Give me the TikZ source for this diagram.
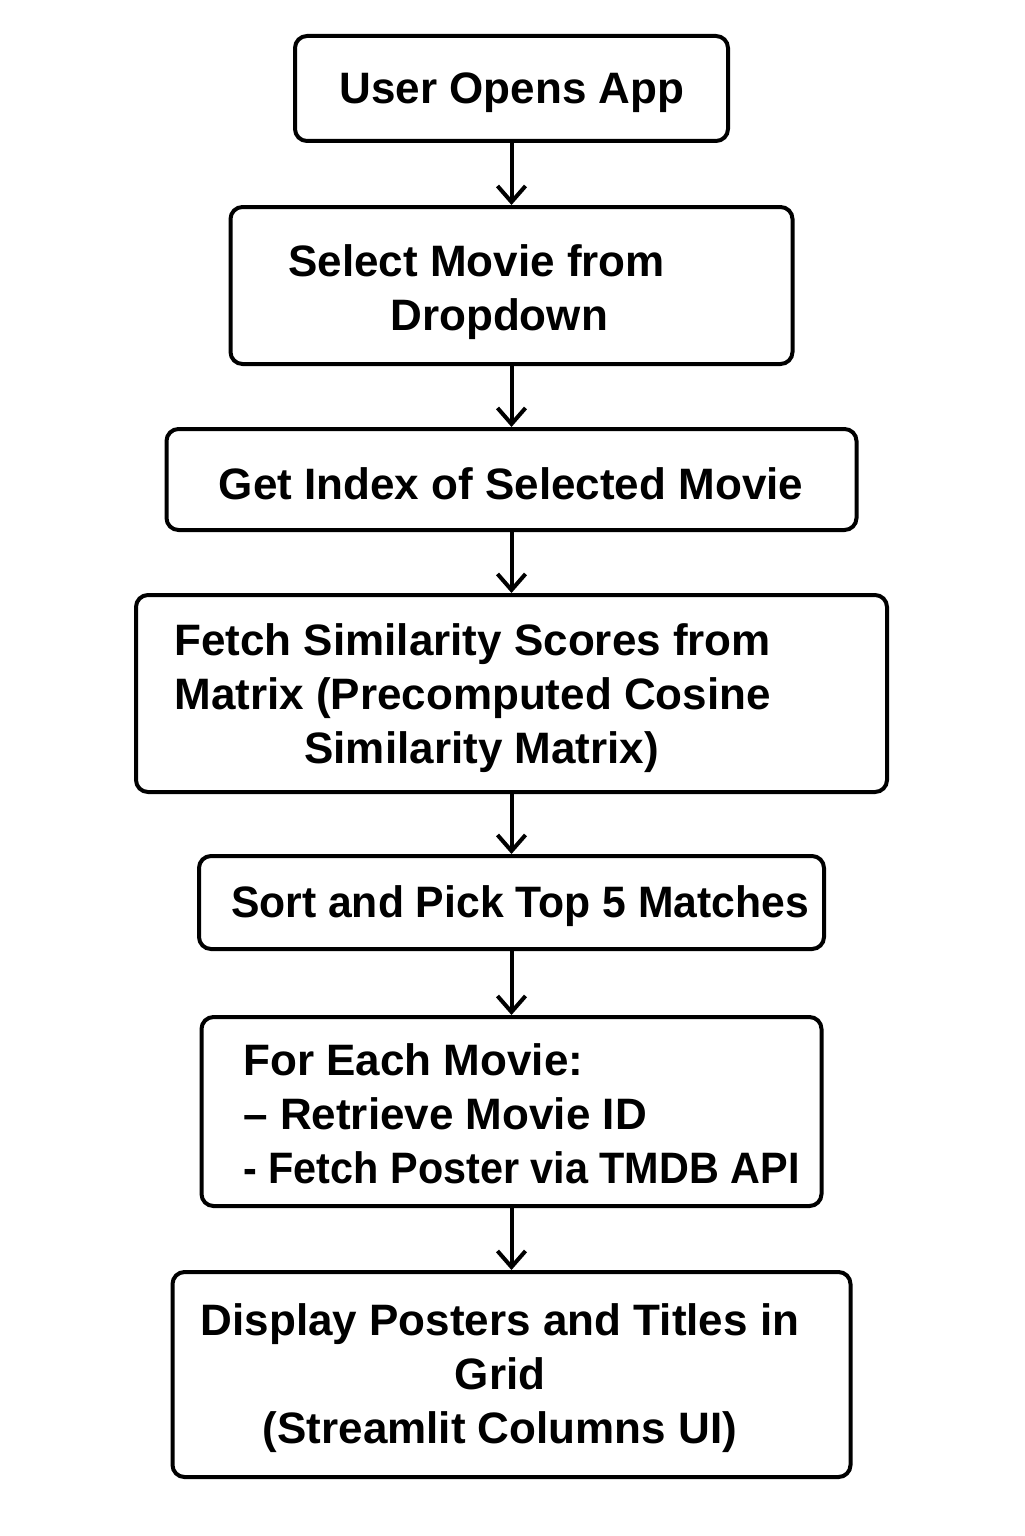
\documentclass[tikz,border=0pt]{standalone}
\usepackage{fontspec}
\usepackage{graphicx}
\newfontfamily\flowfont{Liberation Sans}
\usetikzlibrary{arrows.meta}

\begin{document}
\begin{tikzpicture}[x=0.5pt, y=-0.5pt,
    stepbox/.style={draw, line width=2pt, rounded corners=6pt},
    steptext/.style={font=\flowfont\bfseries\fontsize{22}{27}\selectfont, align=center, inner sep=0pt},
    flow/.style={-{Straight Barb[length=8pt, width=14pt]}, line width=2pt}]
    \useasboundingbox[fill=white] (0,0) rectangle (1024,1536);
    \node[stepbox, minimum width=216.5pt, minimum height=52.5pt] (open) at (511.5,88.5) {};
    \node[steptext] (openT) at (512,93) {User Opens App};
    \node[stepbox, minimum width=281pt, minimum height=78.5pt] (select) at (511.5,285.5) {};
    \node[steptext, align=left, anchor=west] (selectT) at (288,292) {Select Movie from\\\hspace*{51pt}Dropdown};
    \node[stepbox, minimum width=345pt, minimum height=50.5pt] (index) at (511.5,479.5) {};
    \node[steptext] (indexT) at (511,484) {Get Index of Selected Movie};
    \node[stepbox, minimum width=375.5pt, minimum height=98.5pt] (fetch) at (511.5,693.5) {};
    \node[steptext, align=left, anchor=west] (fetchT) at (174,698) {Fetch Similarity Scores from\\Matrix (Precomputed Cosine\\\hspace*{65pt}Similarity Matrix)};
    \node[stepbox, minimum width=312.5pt, minimum height=46.5pt] (sort) at (511.5,902.5) {};
    \node[steptext] (sortT) at (520,906) {\scalebox{0.97}[1]{Sort and Pick Top 5 Matches}};
    \node[stepbox, minimum width=310pt, minimum height=94.5pt] (each) at (511.5,1111.5) {};
    \node[steptext, align=left, anchor=west] (eachT) at (243,1114) {For Each Movie:\\– Retrieve Movie ID\\\scalebox{0.94}[1]{- Fetch Poster via TMDB API}};
    \node[stepbox, minimum width=339pt, minimum height=102.5pt] (show) at (511.5,1374.5) {};
    \node[steptext] (showT) at (500,1378) {Display Posters and Titles in\\Grid\\(Streamlit Columns UI)};
    \foreach \a/\b in {open/select, select/index, index/fetch, fetch/sort, sort/each, each/show}
      \draw[flow] (\a.south) -- (\a.south |- \b.north);
\end{tikzpicture}
\end{document}
